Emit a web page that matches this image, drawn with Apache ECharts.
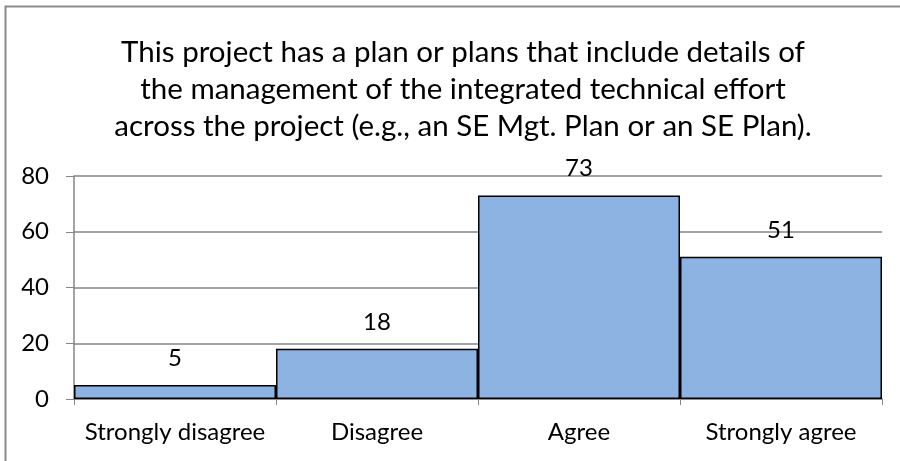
<!DOCTYPE html>
<html>
<head>
<meta charset="utf-8">
<script src="https://cdn.jsdelivr.net/npm/echarts@6/dist/echarts.min.js"></script>
<style>
  html, body { margin: 0; padding: 0; background: #fff; }
  #main { width: 900px; height: 461px; }
</style>
</head>
<body>
<div id="main"></div>
<script>
var titleLines = [
  'This project has a plan or plans that include details of',
  'the management of the integrated technical effort',
  'across the project (e.g., an SE Mgt. Plan or an SE Plan).'
];
var categories = ['Strongly disagree', 'Disagree', 'Agree', 'Strongly agree'];
var counts = [5, 18, 73, 51];
var yTicks = [0, 20, 40, 60, 80];

var font = 'Lato, "Open Sans", sans-serif';
var chart = echarts.init(document.getElementById('main'));
chart.setOption({
  animation: false,
  textStyle: { fontFamily: font },
  graphic: [{
    type: 'rect',
    shape: { x: 5.5, y: 6.5, width: 900, height: 460 },
    style: { fill: 'none', stroke: '#8a8a8a', lineWidth: 2 },
    silent: true
  }],
  title: {
    text: titleLines.join('\n'),
    left: 458,
    top: 29,
    textAlign: 'center',
    textStyle: { fontFamily: font, fontSize: 29.5, fontWeight: 'normal', color: '#000', lineHeight: 37 }
  },
  grid: { left: 74, right: 18, top: 176, bottom: 62, containLabel: false },
  xAxis: {
    type: 'category',
    data: categories,
    axisLine: { lineStyle: { color: '#868686', width: 1.5 } },
    axisTick: { show: true, length: 6, lineStyle: { color: '#868686' } },
    axisLabel: { color: '#000', fontSize: 24, margin: 21, interval: 0, fontFamily: font }
  },
  yAxis: {
    type: 'value',
    min: yTicks[0],
    max: yTicks[yTicks.length - 1],
    interval: 20,
    axisLine: { show: true, lineStyle: { color: '#868686', width: 1.5 } },
    axisTick: { show: true, length: 8, lineStyle: { color: '#868686' } },
    axisLabel: { color: '#000', fontSize: 24, margin: 25, fontFamily: font },
    splitLine: { lineStyle: { color: '#868686', width: 1.5 } }
  },
  series: [{
    type: 'bar',
    data: counts,
    barCategoryGap: 0,
    itemStyle: { color: '#8db3e2', borderColor: '#000', borderWidth: 1.5 },
    label: { show: true, position: 'top', distance: 15, color: '#000', fontSize: 24, fontFamily: font }
  }]
});
</script>
</body>
</html>
